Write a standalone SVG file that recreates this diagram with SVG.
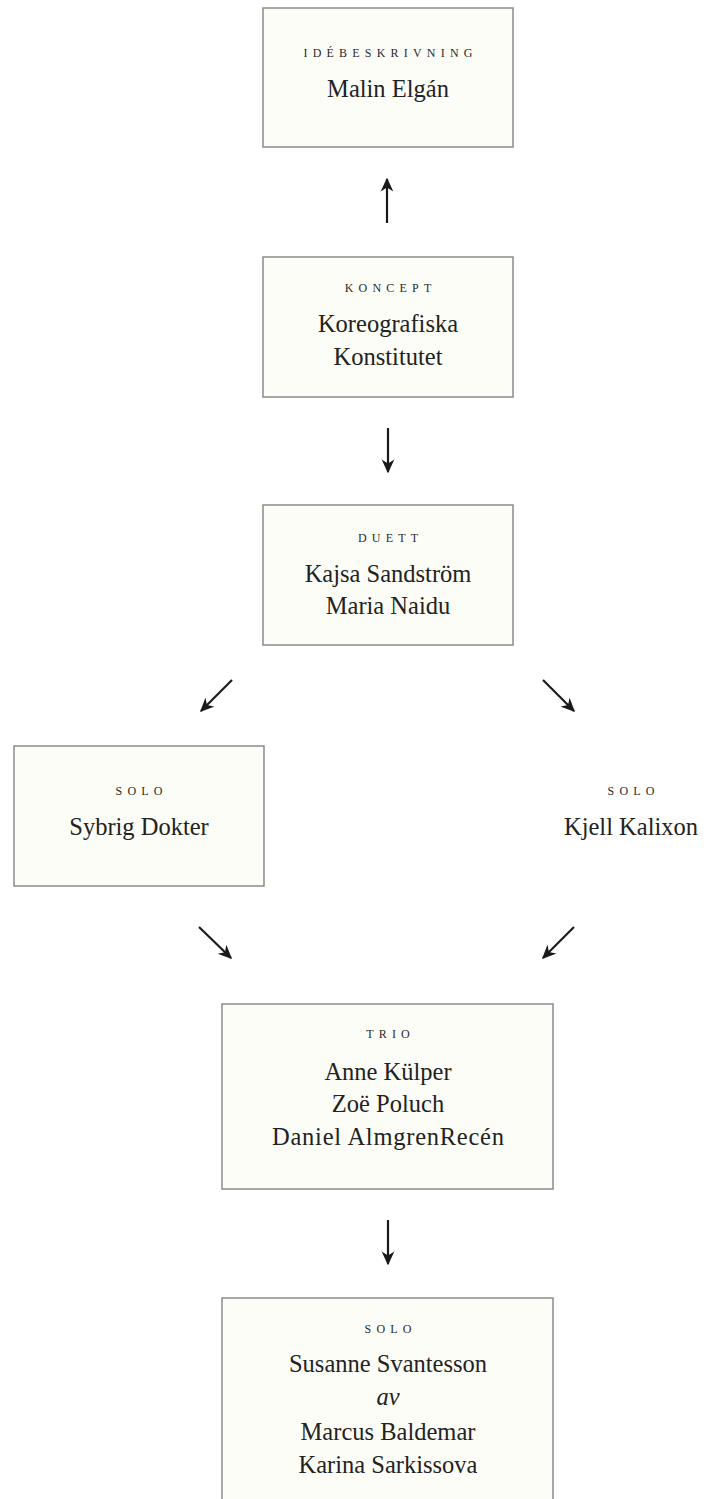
<svg xmlns="http://www.w3.org/2000/svg" width="704" height="1499" viewBox="0 0 704 1499">
<style>
.box{fill:#fdfdf8;stroke:#8a8a8a;stroke-width:1.5}
.lbl{font-family:"Liberation Serif","Times New Roman",serif;font-size:12px;letter-spacing:5.2px;fill:#2a2a2a;text-anchor:middle}
.nm{font-family:"Liberation Serif","Times New Roman",serif;font-size:24.5px;fill:#222;text-anchor:middle}
.it{font-style:italic}
.arr{stroke:#1a1a1a;stroke-width:2.2;fill:none;marker-end:url(#ah)}
</style>
<defs>
<marker id="ah" viewBox="0 0 10 10" refX="9" refY="5" markerWidth="14" markerHeight="14" markerUnits="userSpaceOnUse" orient="auto">
<path d="M0,0.5 L10,5 L0,9.5 L3,5 z" fill="#1a1a1a"/>
</marker>
</defs>
<rect width="704" height="1499" fill="#ffffff"/>
<g id="connectors">
<line class="arr" x1="387" y1="223" x2="387" y2="179"/>
<line class="arr" x1="388" y1="428" x2="388" y2="472"/>
<line class="arr" x1="232" y1="680" x2="201" y2="711"/>
<line class="arr" x1="543" y1="680" x2="574" y2="711"/>
<line class="arr" x1="199" y1="927" x2="231" y2="958"/>
<line class="arr" x1="574" y1="927" x2="543" y2="958"/>
<line class="arr" x1="388" y1="1220" x2="388" y2="1264"/>
</g>
<g id="idebeskrivning">
<rect class="box" x="263" y="8" width="250" height="139"/>
<text class="lbl" x="390.6" y="57">IDÉBESKRIVNING</text>
<text class="nm" x="388" y="97">Malin Elgán</text>
</g>
<g id="koncept">
<rect class="box" x="263" y="257" width="250" height="140"/>
<text class="lbl" x="390.6" y="292">KONCEPT</text>
<text class="nm" x="388" y="332">Koreografiska</text>
<text class="nm" x="388" y="365">Konstitutet</text>
</g>
<g id="duett">
<rect class="box" x="263" y="505" width="250" height="140"/>
<text class="lbl" x="390.6" y="542">DUETT</text>
<text class="nm" x="388" y="582">Kajsa Sandström</text>
<text class="nm" x="388" y="614">Maria Naidu</text>
</g>
<g id="solo-sybrig">
<rect class="box" x="14" y="746" width="250" height="140"/>
<text class="lbl" x="141.6" y="795">SOLO</text>
<text class="nm" x="139" y="835">Sybrig Dokter</text>
</g>
<g id="solo-kjell">
<text class="lbl" x="633.6" y="795">SOLO</text>
<text class="nm" x="631" y="835">Kjell Kalixon</text>
</g>
<g id="trio">
<rect class="box" x="222" y="1004" width="331" height="185"/>
<text class="lbl" x="390.6" y="1038">TRIO</text>
<text class="nm" x="388" y="1080">Anne Külper</text>
<text class="nm" x="388" y="1112">Zoë Poluch</text>
<text class="nm" x="388" y="1145" textLength="232" lengthAdjust="spacing">Daniel AlmgrenRecén</text>
</g>
<g id="solo-susanne">
<rect class="box" x="222" y="1298" width="331" height="230"/>
<text class="lbl" x="390.6" y="1333">SOLO</text>
<text class="nm" x="388" y="1372">Susanne Svantesson</text>
<text class="nm it" x="388" y="1405">av</text>
<text class="nm" x="388" y="1440">Marcus Baldemar</text>
<text class="nm" x="388" y="1473">Karina Sarkissova</text>
</g>
</svg>
